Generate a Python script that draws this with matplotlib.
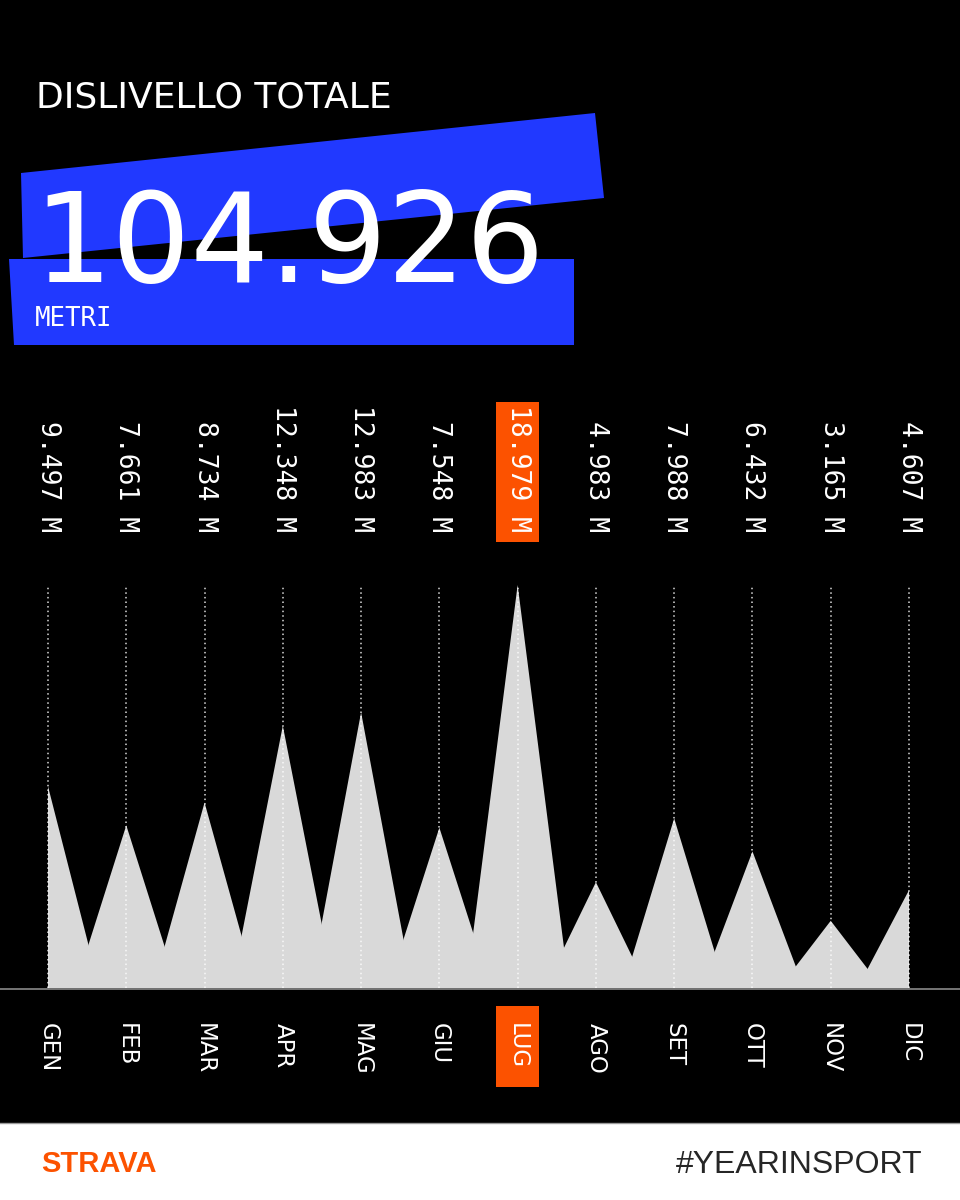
import numpy as np
import matplotlib
matplotlib.use('Agg')
from matplotlib import pyplot as plt
from matplotlib import transforms
from matplotlib.patches import Polygon, Rectangle

# data
months = ['GEN', 'FEB', 'MAR', 'APR', 'MAG', 'GIU', 'LUG', 'AGO', 'SET', 'OTT', 'NOV', 'DIC']
elevation = [9497, 7661, 8734, 12348, 12983, 7548, 18979, 4983, 7988, 6432, 3165, 4607]
total_label = '104.926'
title = 'DISLIVELLO TOTALE'
unit = 'METRI'

BLUE = '#2139ff'
ORANGE = '#fc5200'
FILL = '#d9d9d9'
half_w = 0.658  # half base of each month's spike, in months


def fmt(v):
    return '{:,}'.format(v).replace(',', '.') + ' M'


fig = plt.figure(figsize=(9.6, 12), dpi=100, facecolor='black')

# full-figure axes in pixel coords for the decoration
bg = fig.add_axes([0, 0, 1, 1], zorder=0)
bg.set_xlim(0, 960)
bg.set_ylim(1200, 0)
bg.axis('off')

# blue torn-paper shape behind the total
bg.add_patch(Polygon([(21, 173), (595, 113), (604, 198), (23, 258)],
                     closed=True, fc=BLUE, ec='none'))
bg.add_patch(Polygon([(9, 259), (574, 259), (574, 345), (14, 345)],
                     closed=True, fc=BLUE, ec='none'))

bg.text(36, 108, title, color='white', fontsize=26, family='DejaVu Sans',
        ha='left', va='baseline')
bg.text(33, 282, total_label, color='white', fontsize=89, family='DejaVu Sans',
        ha='left', va='baseline')
bg.text(35, 326, unit, color='white', fontsize=18.5, family='DejaVu Sans Mono',
        ha='left', va='baseline')

# baseline across the page
bg.plot([0, 960], [988.5, 988.5], color='#8a8a8a', lw=1.2)

# footer
bg.add_patch(Rectangle((0, 1123), 960, 77, fc='white', ec='none'))
bg.plot([0, 960], [1123, 1123], color='#9a9a9a', lw=1)
bg.text(41, 1172, 'STRAVA', color=ORANGE, fontsize=21, fontweight='bold',
        family=['Liberation Sans', 'DejaVu Sans'], ha='left', va='baseline')
bg.text(922, 1173, '#YEARINSPORT', color='#262626', fontsize=23,
        family=['Liberation Sans', 'DejaVu Sans'], ha='right', va='baseline')

# chart axes
top_px, base_px = 585, 988
ax = fig.add_axes([48 / 960, (1200 - base_px) / 1200, 861 / 960,
                   (base_px - top_px) / 1200], zorder=1)
ax.set_facecolor('none')
ax.set_xlim(0, len(months) - 1)
ax.set_ylim(0, max(elevation))
ax.axis('off')

x = np.arange(len(months))
for i, h in enumerate(elevation):
    ax.fill([i - half_w, i, i + half_w], [0, h, 0], color=FILL, lw=0, zorder=2)

ax.vlines(x, 0, max(elevation), colors='white', alpha=0.85, lw=1.1,
          linestyles=(0, (1, 2)), zorder=3, clip_on=False)

# labels above and below, x in data, y in page pixels
trans = transforms.blended_transform_factory(ax.transData, bg.transData)
peak = int(np.argmax(elevation))
ax.add_patch(Rectangle((peak - 0.275, 402), 0.55, 140, transform=trans,
                       fc=ORANGE, ec='none', clip_on=False, zorder=4))
ax.add_patch(Rectangle((peak - 0.275, 1006), 0.55, 81, transform=trans,
                       fc=ORANGE, ec='none', clip_on=False, zorder=4))

for i, (m, v) in enumerate(zip(months, elevation)):
    ax.text(i, 532, fmt(v), transform=trans, rotation=270, color='white',
            fontsize=19, family='DejaVu Sans Mono', ha='center', va='bottom',
            clip_on=False, zorder=5)
    ax.text(i, 1023, m, transform=trans, rotation=270, color='white',
            fontsize=16.5, family='DejaVu Sans', ha='center', va='top',
            clip_on=False, zorder=5)

fig.savefig('out.png', dpi=100, facecolor='black')
